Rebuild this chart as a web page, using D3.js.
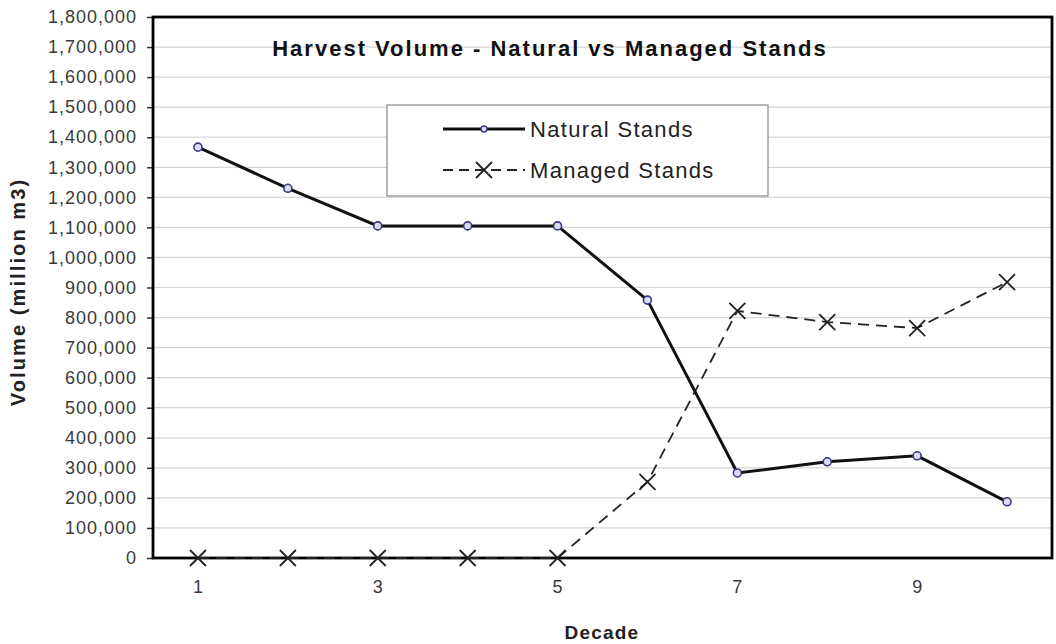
<!DOCTYPE html>
<html>
<head>
<meta charset="utf-8">
<script src="https://cdn.jsdelivr.net/npm/d3@7"></script>
<style>
  body { margin: 0; background: #fff; }
  svg { display: block; font-family: "Liberation Sans", Arial, sans-serif; }
</style>
</head>
<body>
<div class="chart"></div>
<script>
let width = 1056,
    height = 644;

// data
const decades = [1, 2, 3, 4, 5, 6, 7, 8, 9, 10];
const decadeLabels = ["1", "", "3", "", "5", "", "7", "", "9", ""];
const natural = [1367000, 1230000, 1105000, 1105000, 1105000, 858000, 283000, 320000, 340000, 187000];
const managed = [0, 0, 0, 0, 0, 253000, 822000, 785000, 765000, 918000];
const yTicks = d3.range(0, 1800001, 100000);

const margin = {top: 17, right: 4, bottom: 86, left: 153};
const fontFamily = '"Liberation Sans", Arial, sans-serif';

let svg = d3.select(".chart").append("svg")
    .attr("width", width)
    .attr("height", height);

let x = d3.scaleBand()
    .domain(decades)
    .range([margin.left, width - margin.right]);

let y = d3.scaleLinear()
    .domain([0, 1800000])
    .range([height - margin.bottom, margin.top]);

let cx = d => x(d) + x.bandwidth() / 2;

// gridlines
svg.append("g")
    .selectAll("line")
    .data(yTicks)
    .join("line")
    .attr("x1", margin.left)
    .attr("x2", width - margin.right)
    .attr("y1", d => y(d))
    .attr("y2", d => y(d))
    .style("stroke", "#d6d6d6")
    .style("stroke-width", 1.2);

// y axis
let yAxis = svg.append("g")
    .attr("transform", `translate(${margin.left},0)`)
    .call(d3.axisLeft(y).tickValues(yTicks).tickFormat(d3.format(",")).tickSize(6).tickPadding(10));
yAxis.attr("font-family", fontFamily);
yAxis.select(".domain").remove();
yAxis.selectAll("line").style("stroke", "#333").style("stroke-width", 1.5);
yAxis.selectAll("text")
    .style("font-family", fontFamily)
    .style("font-size", "18px")
    .style("letter-spacing", "1px")
    .style("fill", "#3a3a3a");

// x axis labels
let xAxis = svg.append("g")
    .attr("transform", `translate(0,${height - margin.bottom})`)
    .call(d3.axisBottom(x).tickFormat((d, i) => decadeLabels[i]).tickSize(0).tickPadding(22));
xAxis.attr("font-family", fontFamily);
xAxis.select(".domain").remove();
xAxis.selectAll("text")
    .style("font-family", fontFamily)
    .style("font-size", "18px")
    .style("fill", "#3a3a3a");

// plot frame
svg.append("rect")
    .attr("x", margin.left)
    .attr("y", margin.top)
    .attr("width", width - margin.left - margin.right)
    .attr("height", height - margin.top - margin.bottom)
    .style("fill", "none")
    .style("stroke", "#000")
    .style("stroke-width", 2.8);

// title
svg.append("text")
    .attr("x", 550)
    .attr("y", 56)
    .attr("text-anchor", "middle")
    .style("font-size", "22px")
    .style("font-weight", "bold")
    .style("letter-spacing", "2px")
    .style("fill", "#111")
    .text("Harvest Volume - Natural vs Managed Stands");

// axis titles
svg.append("text")
    .attr("transform", "translate(25,292) rotate(-90)")
    .attr("text-anchor", "middle")
    .style("font-size", "20px")
    .style("font-weight", "bold")
    .style("letter-spacing", "2.1px")
    .style("fill", "#222")
    .text("Volume (million m3)");

svg.append("text")
    .attr("x", 602)
    .attr("y", 639)
    .attr("text-anchor", "middle")
    .style("font-size", "19px")
    .style("font-weight", "bold")
    .style("letter-spacing", "1.2px")
    .style("fill", "#222")
    .text("Decade");

// lines
let line = d3.line()
    .x((d, i) => cx(decades[i]))
    .y(d => y(d));

svg.append("path")
    .datum(managed)
    .attr("d", line)
    .style("fill", "none")
    .style("stroke", "#222")
    .style("stroke-width", 1.8)
    .style("stroke-dasharray", "11,7");

svg.append("path")
    .datum(natural)
    .attr("d", line)
    .style("fill", "none")
    .style("stroke", "#111")
    .style("stroke-width", 3);

// x shaped marker
let cross = r => `M${-r},${-r}L${r},${r}M${-r},${r}L${r},${-r}`;

svg.append("g")
    .selectAll("path")
    .data(managed)
    .join("path")
    .attr("transform", (d, i) => `translate(${cx(decades[i])},${y(d)})`)
    .attr("d", cross(8))
    .style("fill", "none")
    .style("stroke", "#222")
    .style("stroke-width", 1.8);

// natural markers (o)
svg.append("g")
    .selectAll("circle")
    .data(natural)
    .join("circle")
    .attr("cx", (d, i) => cx(decades[i]))
    .attr("cy", d => y(d))
    .attr("r", 4)
    .style("fill", "#dcdcf0")
    .style("stroke", "#36368a")
    .style("stroke-width", 1.6);

// legend
let legend = svg.append("g");
legend.append("rect")
    .attr("x", 387)
    .attr("y", 105)
    .attr("width", 381)
    .attr("height", 91)
    .style("fill", "#fff")
    .style("stroke", "#888")
    .style("stroke-width", 1.2);

legend.append("line")
    .attr("x1", 443).attr("x2", 525)
    .attr("y1", 129).attr("y2", 129)
    .style("stroke", "#111")
    .style("stroke-width", 3);
legend.append("circle")
    .attr("cx", 484).attr("cy", 129).attr("r", 3)
    .style("fill", "#dcdcf0")
    .style("stroke", "#36368a")
    .style("stroke-width", 1.4);
legend.append("text")
    .attr("x", 530).attr("y", 137)
    .style("font-size", "22px")
    .style("letter-spacing", "1.3px")
    .style("fill", "#222")
    .text("Natural Stands");

legend.append("line")
    .attr("x1", 443).attr("x2", 525)
    .attr("y1", 170).attr("y2", 170)
    .style("stroke", "#222")
    .style("stroke-width", 1.8)
    .style("stroke-dasharray", "10,6");
legend.append("path")
    .attr("transform", "translate(484,170)")
    .attr("d", cross(8))
    .style("fill", "none")
    .style("stroke", "#222")
    .style("stroke-width", 1.8);
legend.append("text")
    .attr("x", 530).attr("y", 178)
    .style("font-size", "22px")
    .style("letter-spacing", "1.3px")
    .style("fill", "#222")
    .text("Managed Stands");
</script>
</body>
</html>
